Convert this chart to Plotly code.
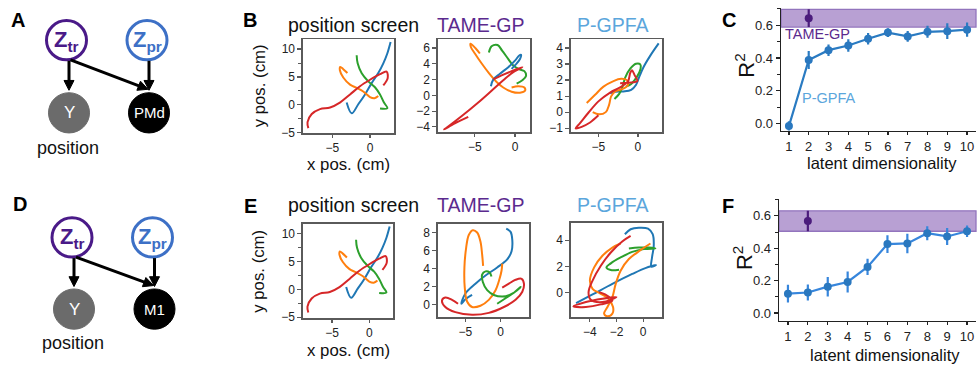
import math
import plotly.graph_objects as go

W, H = 977, 373

# ---------------- data ----------------
traj_colors = {"blue": "#1f77b4", "orange": "#ff7f0e", "green": "#2ca02c", "red": "#d62728"}

screen_traj = {
    "blue": ([-3.1, -2.43, -1.55, -0.66, 0.22, 1.1, 1.77, 2.3, 2.74],
             [0.41, -1.52, 0.12, 1.87, 3.9, 5.7, 7.44, 9.2, 11.25]),
    "orange": ([-3.0, -3.55, -3.95, -4.0, -3.55, -2.65, -1.77, -0.9, 0.0, 0.6, 1.1],
               [5.7, 6.4, 6.8, 6.2, 4.9, 3.63, 3.05, 2.4, 1.4, 1.2, 1.58]),
    "green": ([-1.77, -1.64, -1.1, -0.22, 0.66, 1.33, 1.86, 2.3, 1.33],
              [8.9, 7.44, 5.68, 4.22, 3.16, 1.87, 0.41, -0.59, -0.64]),
    "red": ([-8.19, -8.3, -7.74, -6.64, -5.3, -4.0, -2.65, -1.33, 0.0, 1.33, 2.2, 2.35, 1.77],
            [-4.16, -3.1, -1.64, -0.76, -0.47, 0.41, 1.87, 3.34, 4.5, 5.5, 5.97, 4.8, 3.5]),
}

tame_pmd_traj = {
    "orange": ([-4.38, -4.92, -5.54, -5.5, -5.0, -4.17, -3.25, -2.29, -1.46, -0.42, 0.625, 1.25, 1.17, 0.42, -0.42],
               [5.31, 5.98, 6.56, 6.14, 5.31, 4.07, 2.82, 1.70, 1.0, 0.46, 0.33, 0.58, 1.0, 1.16, 1.0]),
    "green": ([-3.25, -2.92, -2.17, -1.58, -0.83, -0.21, 0.5, 1.17, 1.375, 0.92, 0.21],
              [5.44, 6.22, 6.39, 5.64, 4.61, 3.78, 3.32, 3.07, 2.45, 1.91, 1.49]),
    "blue": ([-3.0, -2.71, -1.875, -0.83, 0.0, 0.5, 0.75, 0.625, 0.083, -0.42],
             [1.16, 1.99, 2.74, 3.57, 4.4, 5.02, 5.15, 4.61, 3.9, 3.36]),
    "red": ([-5.83, -7.5, -8.83, -8.54, -6.67, -4.58, -2.92, -1.46, -0.21, 0.92, -0.42, -1.67, -2.71],
            [-2.74, -3.57, -4.32, -4.11, -2.66, -0.91, 0.58, 1.91, 2.95, 3.57, 3.07, 2.53, 2.03]),
}

pgpfa_pmd_traj = {
    "blue": ([2.63, 1.57, 0.72, 0.17, -0.25, -0.85, -1.82, -2.88, -3.52],
             [4.29, 3.53, 2.82, 2.2, 1.69, 1.39, 1.29, 1.27, 1.18]),
    "green": ([-2.97, -2.37, -1.95, -1.61, -0.97, -0.25, 0.3, 0.34, -0.13, -0.85, -1.53],
              [0.82, 1.14, 1.59, 2.16, 2.71, 3.02, 2.98, 2.71, 2.2, 1.76, 1.59]),
    "orange": ([-6.48, -5.42, -4.36, -3.09, -2.12, -1.4, -1.27, -2.03, -2.88, -3.39, -3.64, -4.07, -4.92, -5.72],
               [0.57, 1.08, 1.59, 1.94, 2.08, 2.0, 1.69, 1.43, 1.29, 0.98, 0.47, 0.0, -0.14, 0.0]),
    "red": ([-5.0, -6.06, -7.12, -7.88, -7.33, -6.27, -5.0, -3.52, -2.25, -1.27, -0.97, -0.76, -0.42, -0.08, -1.19, -2.25],
            [-0.2, -0.65, -0.92, -1.02, -0.69, -0.04, 0.67, 1.22, 1.55, 1.9, 2.45, 2.61, 2.31, 1.94, 1.84, 1.8]),
}

tame_m1_traj = {
    "blue": ([0.81, 1.43, 1.67, 1.57, 0.95, -0.48, -2.14, -3.57, -5.0, -5.57, -5.0, -4.05],
             [8.42, 8.06, 7.17, 5.91, 5.02, 4.12, 3.23, 2.33, 1.25, 0.11, 0.61, 1.08]),
    "orange": ([-2.48, -2.62, -2.86, -3.33, -3.95, -4.52, -4.9, -5.14, -5.1, -4.76, -4.05, -2.86, -1.67, -0.71, -0.14, 0.14, 0.24],
               [4.3, 5.56, 6.99, 7.99, 8.24, 7.71, 6.27, 4.12, 1.97, 0.36, -0.25, -0.11, 0.54, 1.61, 2.87, 3.76, 4.55]),
    "green": ([-1.29, -1.57, -2.14, -2.62, -2.52, -1.9, -0.95, 0.24, 1.29, 2.38, 2.86, 1.9, 0.71, -0.48],
              [3.12, 3.58, 3.69, 3.33, 2.51, 1.61, 1.08, 0.9, 1.08, 1.61, 1.97, 1.33, 0.72, 0.11]),
    "red": ([-6.05, -6.9, -7.86, -8.33, -7.86, -6.43, -4.05, -1.67, 0.48, 2.14, 3.1, 3.33, 3.0, 2.14, 1.19, 0.24],
            [0.11, 0.54, 0.79, 0.47, -0.25, -0.82, -1.11, -0.9, -0.25, 0.54, 1.43, 2.33, 2.87, 2.76, 2.33, 1.9]),
}

pgpfa_m1_traj = {
    "blue": ([-5.04, -3.8, -2.31, -0.82, 0.17, 0.97, 0.62, 0.67, 0.8, 0.72, 0.37, -0.32, -0.94, -1.37],
             [-0.81, -0.15, 0.66, 1.42, 1.87, 2.1, 1.97, 2.68, 3.57, 4.46, 4.89, 4.96, 4.84, 4.46]),
    "green": ([-1.81, -2.43, -2.76, -2.43, -1.69, -0.82, 0.05, 0.92, 0.42, -0.32, -1.07],
              [1.75, 1.72, 1.92, 2.23, 2.68, 3.11, 3.32, 3.37, 3.44, 3.44, 3.37]),
    "orange": ([0.55, -0.2, -1.07, -1.69, -2.06, -2.31, -2.68, -2.93, -2.68, -2.31, -2.26, -2.61, -3.18, -3.8, -4.0, -3.68, -3.06, -2.31, -1.69],
               [3.75, 3.24, 2.56, 1.67, 0.66, -0.35, -1.11, -1.62, -1.82, -1.62, -1.11, -0.48, -0.1, 0.28, 0.91, 1.92, 2.81, 3.44, 3.75]),
    "red": ([-0.94, -1.57, -2.43, -3.18, -3.8, -4.1, -3.93, -3.06, -2.01, -3.06, -4.3, -5.24, -4.3, -3.18, -2.31, -2.86, -3.3],
            [4.33, 3.9, 3.06, 2.05, 0.91, 0.03, -0.56, -0.73, -0.35, -0.48, -0.73, -1.06, -1.11, -0.91, -0.61, -0.15, 0.03]),
}

latent_dims = [1, 2, 3, 4, 5, 6, 7, 8, 9, 10]
pmd_pgpfa_r2 = [-0.015, 0.388, 0.448, 0.476, 0.518, 0.555, 0.532, 0.560, 0.564, 0.573]
pmd_pgpfa_err = [0.03, 0.055, 0.035, 0.038, 0.035, 0.027, 0.033, 0.037, 0.048, 0.044]
pmd_tame_dim = 2
pmd_tame_r2 = 0.643
pmd_tame_err = 0.054

m1_pgpfa_r2 = [0.12, 0.127, 0.163, 0.192, 0.285, 0.426, 0.43, 0.493, 0.473, 0.505]
m1_pgpfa_err = [0.055, 0.05, 0.06, 0.065, 0.05, 0.055, 0.06, 0.043, 0.052, 0.035]
m1_tame_dim = 2
m1_tame_r2 = 0.568
m1_tame_err = 0.063

# ---------------- helpers ----------------
FONT = "Liberation Sans, Arial, Helvetica, sans-serif"
PURPLE = "#5b2a8e"
LIGHTBLUE = "#5ba6dc"


def px(x):
    return x / W


def py(y):
    return 1 - y / H


fig = go.Figure()
layout_axes = {}


def add_axis(idx, left, right, top, bottom, xr, yr, xticks, yticks, kind="traj", yminor=None, yfmt=None):
    xa = dict(domain=[px(left), px(right)], range=xr, anchor="y%d" % idx,
              showgrid=False, zeroline=False, showline=True, ticks="outside",
              tickvals=xticks, fixedrange=True)
    ya = dict(domain=[py(bottom), py(top)], range=yr, anchor="x%d" % idx,
              showgrid=False, zeroline=False, showline=True, ticks="outside",
              tickvals=yticks, fixedrange=True)
    if kind == "traj":
        for a in (xa, ya):
            a.update(mirror=True, linecolor="#5a5a5a", linewidth=1.6, ticklen=4,
                     tickcolor="#5a5a5a", tickwidth=1.2,
                     tickfont=dict(size=12, color="#222", family=FONT))
        xa["ticklen"] = 3
    else:
        for a in (xa, ya):
            a.update(mirror=False, linecolor="#222", linewidth=1.4, ticklen=4,
                     tickcolor="#222", tickwidth=1.2,
                     tickfont=dict(size=13, color="#222", family=FONT))
        xa["ticklen"] = 3
    if yminor:
        ya["minor"] = dict(ticks="outside", dtick=yminor, ticklen=3,
                           tickcolor=ya["tickcolor"], tickwidth=1)
    if yfmt:
        ya["tickformat"] = yfmt
    key = "" if idx == 1 else str(idx)
    layout_axes["xaxis" + key] = xa
    layout_axes["yaxis" + key] = ya


def add_traj(idx, data):
    for name, (xs, ys) in data.items():
        fig.add_trace(go.Scatter(x=xs, y=ys, mode="lines", xaxis="x%d" % idx, yaxis="y%d" % idx,
                                 line=dict(color=traj_colors[name], width=2, shape="spline", smoothing=1.0),
                                 showlegend=False, hoverinfo="skip"))


# ---------------- trajectory panels ----------------
add_axis(1, 303, 394, 40, 136, [-8.9, 3.19], [-5.12, 11.76], [-5, 0], [-5, 0, 5, 10], yminor=2.5)
add_axis(2, 438, 530, 40, 135, [-9.6, 1.875], [-4.71, 7.12], [-5, 0], [-4, -2, 0, 2, 4, 6])
add_axis(3, 571, 662, 40, 135, [-8.47, 3.05], [-1.27, 4.55], [-5, 0], [-1, 0, 1, 2, 3, 4])
add_axis(5, 303, 393, 228, 324, [-8.9, 3.19], [-5.12, 11.76], [-5, 0], [-5, 0, 5, 10], yminor=2.5)
add_axis(6, 438, 529, 228, 323, [-8.9, 4.05], [-1.35, 8.96], [-5, 0], [0, 2, 4, 6, 8])
add_axis(7, 571, 662, 227, 323, [-5.42, 1.42], [-1.87, 5.34], [-4, -2, 0], [0, 2, 4])

add_traj(1, screen_traj)
add_traj(2, tame_pmd_traj)
add_traj(3, pgpfa_pmd_traj)
add_traj(5, screen_traj)
add_traj(6, tame_m1_traj)
add_traj(7, pgpfa_m1_traj)

# ---------------- R^2 panels ----------------
add_axis(4, 781, 976, 8, 133, [0.6, 10.45], [-0.042, 0.706], latent_dims, [0.0, 0.2, 0.4, 0.6],
         kind="r2", yminor=0.1, yfmt=".1f")
add_axis(8, 779, 976, 203, 327, [0.55, 10.45], [-0.048, 0.703], latent_dims, [0.0, 0.2, 0.4, 0.6],
         kind="r2", yminor=0.1, yfmt=".1f")

shapes = []
for idx, tdim, tr2, terr, pr2, perr, lc in [
    (4, pmd_tame_dim, pmd_tame_r2, pmd_tame_err, pmd_pgpfa_r2, pmd_pgpfa_err, "#2a7bc2"),
    (8, m1_tame_dim, m1_tame_r2, m1_tame_err, m1_pgpfa_r2, m1_pgpfa_err, "#3786dc"),
]:
    shapes.append(dict(type="rect", xref="x%d domain" % idx, yref="y%d" % idx,
                       x0=0, x1=1, y0=tr2 - terr, y1=tr2 + terr,
                       fillcolor="rgba(118,72,170,0.52)", line=dict(color="#9274bd", width=1.3),
                       layer="below"))
    fig.add_trace(go.Scatter(x=latent_dims, y=pr2, mode="lines+markers",
                             xaxis="x%d" % idx, yaxis="y%d" % idx,
                             line=dict(color=lc, width=2.2),
                             marker=dict(color="#2a78bf", size=8),
                             error_y=dict(type="data", array=perr, thickness=2.2, width=0, color=lc),
                             showlegend=False, hoverinfo="skip"))
    fig.add_trace(go.Scatter(x=[tdim], y=[tr2], mode="markers",
                             xaxis="x%d" % idx, yaxis="y%d" % idx,
                             marker=dict(color="#4b1c7c", size=8),
                             error_y=dict(type="data", array=[terr], thickness=2.2, width=0, color="#4b1c7c"),
                             showlegend=False, hoverinfo="skip"))

annotations = []


def text(x, y, s, size, color="#111", bold=False, angle=0, xanchor="center"):
    if bold:
        s = "<b>%s</b>" % s
    annotations.append(dict(x=px(x), y=py(y), xref="paper", yref="paper", text=s, showarrow=False,
                            xanchor=xanchor, yanchor="middle", textangle=angle,
                            font=dict(size=size, color=color, family=FONT)))


# labels inside panel C
annotations.append(dict(x=0.68, y=0.545, xref="x4", yref="y4", text="TAME-GP", showarrow=False,
                        xanchor="left", yanchor="middle", font=dict(size=14.5, color=PURPLE, family=FONT)))
annotations.append(dict(x=3.02, y=0.155, xref="x4", yref="y4", text="P-GPFA", showarrow=False,
                        xanchor="center", yanchor="middle", font=dict(size=14.5, color=LIGHTBLUE, family=FONT)))

# panel letters
for lx, ly, s in [(18, 20, "A"), (250, 20, "B"), (729, 20, "C"),
                  (20, 208, "D"), (250, 210, "E"), (728, 210, "F")]:
    text(lx, ly, s, 20, "#000", bold=True)

# titles
for ty in (25, 209):
    text(353, ty, "position screen", 19.5, "#111")
    text(480, ty, "TAME-GP", 19.5, PURPLE)
    text(613, ty, "P-GPFA", 19.5, LIGHTBLUE)

# axis titles for trajectory panels
text(348, 168, "x pos. (cm)", 16.8)
text(259, 88, "y pos. (cm)", 16.8, angle=-90)
text(348, 357, "x pos. (cm)", 16.8)
text(259, 277, "y pos. (cm)", 16.8, angle=-90)

# axis titles for R^2 panels
text(882, 166, "latent dimensionality", 16.5)
text(885, 362, "latent dimensionality", 16.5)
text(745, 67, "R<sup>2</sup>", 22, angle=-90)
text(743, 263, "R<sup>2</sup>", 22, angle=-90)


# ---------------- graphical model diagrams ----------------
def circle(cx, cy, r, line_color, fill, lw=3):
    shapes.append(dict(type="circle", xref="paper", yref="paper",
                       x0=px(cx - r), x1=px(cx + r), y0=py(cy + r), y1=py(cy - r),
                       line=dict(color=line_color, width=lw), fillcolor=fill, layer="above"))


def arrow(x0, y0, x1, y1, head_len=10.0, head_half=5.0):
    dx, dy = x1 - x0, y1 - y0
    n = math.hypot(dx, dy)
    ux, uy = dx / n, dy / n
    bx, by = x1 - head_len * ux, y1 - head_len * uy
    shapes.append(dict(type="line", xref="paper", yref="paper",
                       x0=px(x0), y0=py(y0), x1=px(bx + ux), y1=py(by + uy),
                       line=dict(color="#000", width=3), layer="above"))
    pts = [(x1, y1), (bx - head_half * uy, by + head_half * ux), (bx + head_half * uy, by - head_half * ux)]
    path = "M %f %f L %f %f L %f %f Z" % tuple(v for p in pts for v in (px(p[0]), py(p[1])))
    shapes.append(dict(type="path", xref="paper", yref="paper", path=path,
                       fillcolor="#000", line=dict(color="#000", width=1), layer="above"))


for (ztr, zpr, yc, nc, node, pos_y) in [
    ((66.5, 41), (147, 41), (69, 115), (149, 115), "PMd", 151),
    ((72, 242), (152.5, 242), (74, 315), (154.5, 315), "M1", 350),
]:
    circle(ztr[0], ztr[1], 20, "#4a1a88", "white")
    circle(zpr[0], zpr[1], 20, "#3d70c6", "white")
    circle(yc[0], yc[1], 20.5, "#6b6b6b", "#6b6b6b", lw=1)
    circle(nc[0], nc[1], 20.5, "#000", "#000", lw=1)
    text(ztr[0], ztr[1] + 1, "Z<sub>tr</sub>", 22, "#4a1a88", bold=True)
    text(zpr[0], zpr[1] + 1, "Z<sub>pr</sub>", 22, "#3d70c6", bold=True)
    text(yc[0], yc[1], "Y", 17, "#fff")
    text(nc[0], nc[1], node, 15, "#fff")
    text(yc[0] - 1, pos_y, "position", 18, "#111")
    arrow(yc[0], ztr[1] + 21, yc[0], yc[1] - 23)
    arrow(ztr[0] + 4, ztr[1] + 20, nc[0] - 1, nc[1] - 24)
    arrow(nc[0], zpr[1] + 21, nc[0], nc[1] - 23)

fig.update_layout(width=W, height=H, margin=dict(l=0, r=0, t=0, b=0), autosize=False,
                  paper_bgcolor="white", plot_bgcolor="white",
                  font=dict(family=FONT, color="#222"),
                  shapes=shapes, annotations=annotations, showlegend=False, **layout_axes)

fig.write_html("out.html", config={"displayModeBar": False, "staticPlot": True},
               post_script="document.body.style.margin='0px';document.body.style.overflow='hidden';")
